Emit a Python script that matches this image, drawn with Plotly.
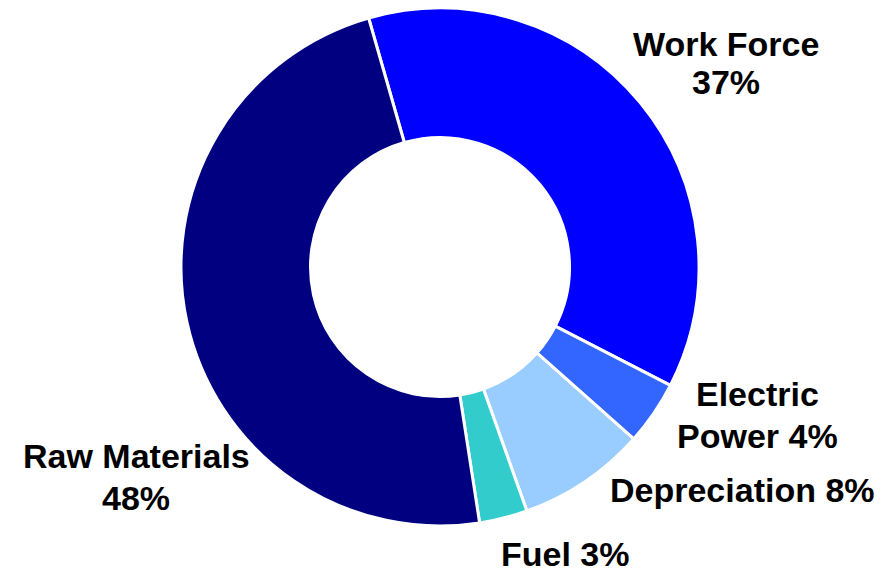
import plotly.graph_objects as go

labels = ["Work Force", "Electric Power", "Depreciation", "Fuel", "Raw Materials"]
values = [37, 4, 8, 3, 48]
colors = ["#0000FF", "#3366FF", "#99CCFF", "#33CCCC", "#000080"]
# label lines: (text, x_px, y_px)
label_lines = [
    ("Work Force", 718, 36), ("37%", 718, 74),
    ("Electric", 749, 386), ("Power 4%", 749, 428),
    ("Depreciation 8%", 734, 482),
    ("Fuel 3%", 557, 546),
    ("Raw Materials", 128, 448), ("48%", 128, 490),
]

W, H = 891, 574

fig = go.Figure(go.Pie(
    labels=labels, values=values, sort=False, direction="clockwise",
    rotation=-16, hole=0.5, textinfo="none", hoverinfo="label+percent",
    marker=dict(colors=colors, line=dict(color="white", width=3)),
    domain=dict(x=[172.5 / W, 691.5 / W], y=[1 - 518 / H, 1]),
    showlegend=False,
))

for t, px, py in label_lines:
    fig.add_annotation(
        x=px / W, y=1 - py / H, xref="paper", yref="paper", text=t,
        showarrow=False, xanchor="center", yanchor="middle",
        font=dict(family="Liberation Sans, Arial, sans-serif", size=34, color="black", weight="bold"),
    )

fig.update_layout(
    width=W, height=H, margin=dict(l=0, r=0, t=0, b=0),
    paper_bgcolor="white", plot_bgcolor="white",
)

fig.write_html("out.html")
